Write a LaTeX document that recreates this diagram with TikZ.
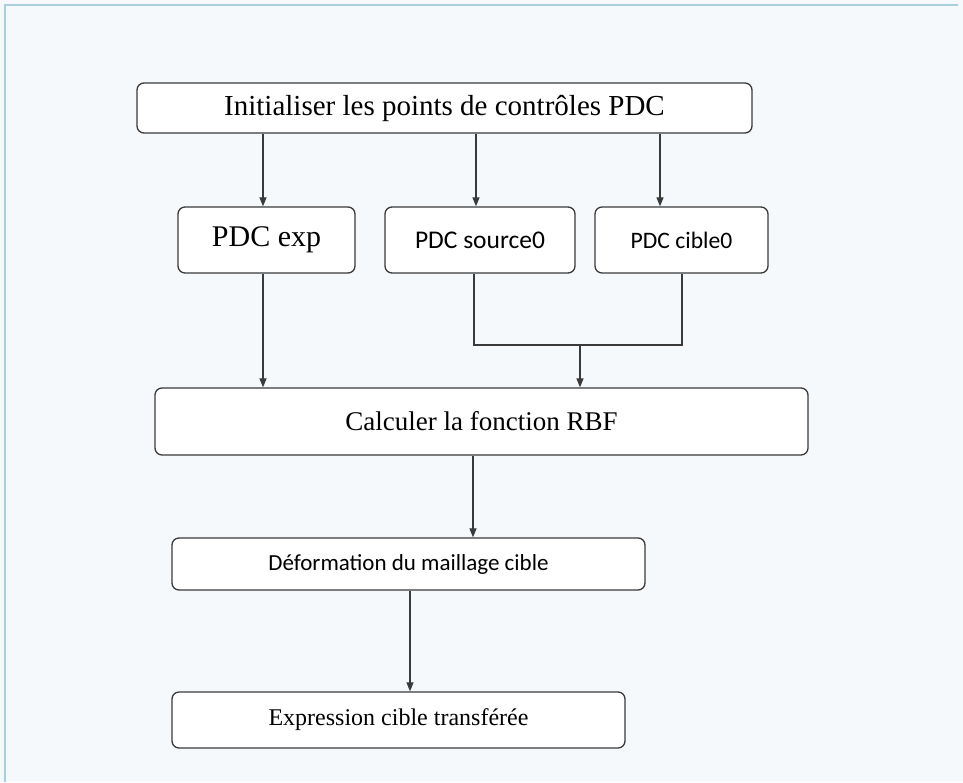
\documentclass[tikz,border=0pt]{standalone}
\usepackage{fontspec}
\setmainfont{Liberation Serif}
\newfontfamily\calib{Carlito}
\usetikzlibrary{arrows.meta}
\definecolor{bg}{HTML}{F5F9FB}
\definecolor{framec}{HTML}{A9CFDB}
\definecolor{ink}{HTML}{3A3A3A}
\begin{document}
\begin{tikzpicture}[x=1pt,y=-1pt,
  box/.style={draw=ink, line width=1.3pt, rounded corners=7pt, fill=white, inner sep=0pt},
  conn/.style={draw=ink, line width=1.2pt},
  arr/.style={conn, -{Triangle[length=9pt,width=7pt]}},
  fs/.style={font=\fontsize{#1}{#1}\selectfont},
  sans/.style={font=\calib\fontsize{#1}{#1}\selectfont}]
\fill[bg] (0,0) rectangle (963,782);
\useasboundingbox (0,0) rectangle (963,782);
\draw[framec, line width=1.5pt] (5,782) -- (5,5) -- (958,5);

\node[box, fs=29, minimum width=615pt, minimum height=50pt] (init) at (444.5,108) {Initialiser les points de contrôles PDC};
\node[box, fs=30, minimum width=177pt, minimum height=66pt] (exp) at (266.5,240) {PDC exp};
\node[box, sans=25.5, minimum width=190pt, minimum height=66pt] (src) at (480,240) {PDC source0};
\node[box, sans=23.6, minimum width=173pt, minimum height=66pt] (cib) at (681.5,240) {PDC cible0};
\node[box, fs=27, minimum width=653pt, minimum height=67pt] (calc) at (481.5,421.5) {Calculer la fonction RBF};
\node[box, sans=23, minimum width=473pt, minimum height=52pt] (def) at (408.5,564) {Déformation du maillage cible};
\node[box, fs=24, minimum width=453pt, minimum height=56pt] (expr) at (398.5,720) {Expression cible transférée};

\coordinate (j) at (580,345);
\draw[arr] (init.south -| 263,0) -- (exp.north -| 263,0);
\draw[arr] (init.south -| 476,0) -- (src.north -| 476,0);
\draw[arr] (init.south -| 660,0) -- (cib.north -| 660,0);
\draw[arr] (exp.south -| 263,0) -- (calc.north -| 263,0);
\draw[conn] (src.south -| 474,0) -- (474,345) -- (682,345) -- (cib.south -| 682,0);
\draw[arr] (j) -- (calc.north -| j);
\draw[arr] (calc.south -| 473,0) -- (def.north -| 473,0);
\draw[arr] (def.south -| 410,0) -- (expr.north -| 410,0);
\end{tikzpicture}
\end{document}
